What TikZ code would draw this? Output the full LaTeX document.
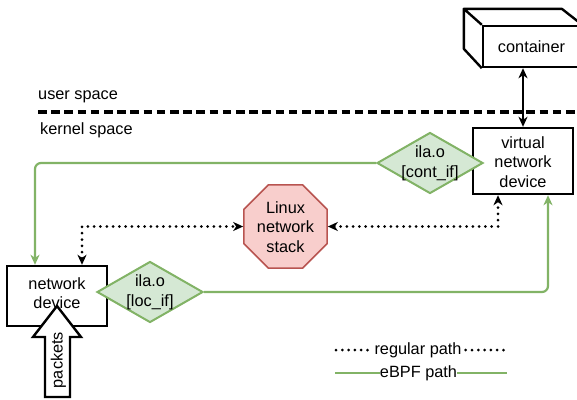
\documentclass[tikz,border=0pt]{standalone}
\usepackage{fontspec}
\setmainfont{Liberation Sans}
\usetikzlibrary{arrows.meta,shapes.geometric}
\definecolor{ebpf}{HTML}{82B366}
\definecolor{ebpffill}{HTML}{D5E8D4}
\definecolor{stackline}{HTML}{B85450}
\definecolor{stackfill}{HTML}{F8CECC}
\tikzset{ah/.tip={Stealth[length=10pt, width=9pt, inset=3pt]}}
\begin{document}
\begin{tikzpicture}[x=1pt,y=-1pt,
  lbl/.style={font=\fontsize{16.3}{19.6}\selectfont, align=center, inner sep=0pt},
  devbox/.style={draw, line width=2.4pt, minimum width=100pt, inner sep=0pt},
  hook/.style={diamond, draw=ebpf, fill=ebpffill, line width=2pt,
    minimum width=106pt, minimum height=61pt, inner sep=0pt},
  regular/.style={line width=3pt, line cap=round, dash pattern=on 0pt off 6.3pt},
  ebpfpath/.style={draw=ebpf, line width=2.2pt, rounded corners=6pt},
  spacesep/.style={line width=3.2pt, dash pattern=on 8.5pt off 4.7pt}
]
\clip (0,0) rectangle (577,399);
\fill[white] (0,0) rectangle (577,399);

% user / kernel boundary
\coordinate (sepL) at (38,112);
\coordinate (sepR) at (580,112);
\draw[spacesep] (sepL) -- (sepR);
\node[lbl, anchor=west] (user) at (38,97) {user space};
\node[lbl, anchor=west] (kernel) at (40,130) {kernel space};

% container drawn as a cuboid
\node[draw, line width=2.4pt, minimum width=98pt, minimum height=41pt, inner sep=0pt,
  fill=white] (container) at (532,46.5) {};
\draw[line width=2.4pt, line join=round]
  (container.north west) -- ++(-18,-16) -- ++(98,0) -- (container.north east)
  (container.north west) ++(-18,-16) -- ++(0,40) -- (container.south west);
\node[lbl] (containertext) at (531.5,47) {container};

% devices
\node[devbox, minimum height=66pt] (vnd) at (523,161) {};
\node[lbl] (vndtext) at (523,162) {virtual\\network\\device};
\node[devbox, minimum height=60pt] (nd) at (57,296) {};
\node[lbl] (ndtext) at (57,293) {network\\device};

% container <-> virtual device
\draw[line width=2.2pt, {ah}-{ah}] (vnd.north |- container.south) -- (vnd.north);

% eBPF hooks
\node[hook] (cont) at (430,163) {};
\node[lbl] (conttext) at (430,163) {ila.o\\{}[cont\_if]};
\node[hook] (loc) at (150,292) {};
\node[lbl] (loctext) at (150,292) {ila.o\\{}[loc\_if]};

% Linux network stack
\node[regular polygon, regular polygon sides=8, minimum size=90pt, inner sep=0pt,
  draw=stackline, fill=stackfill, line width=1.5pt] (stack) at (285.5,226.5) {};
\node[lbl] (stacktext) at (285.5,227) {Linux\\network\\stack};

% regular paths
\draw[regular, {ah}-{ah}]
  ([xshift=25pt]nd.north) |- (stack.west);
\draw[regular, {ah}-{ah}]
  (stack.east) -| ([xshift=-25pt]vnd.south);

% eBPF paths
\draw[ebpfpath, -{ah}] (cont.west) -| ([xshift=-22pt]nd.north);
\draw[ebpfpath, -{ah}] (loc.east) -| ([xshift=25pt]vnd.south);

% incoming packets
\draw[line width=2.4pt, fill=white, line join=miter]
  (57,306) -- (81,337) -- (70,337) -- (70,397) -- (45,397) -- (45,337) -- (33,337) -- cycle;
\node[lbl, rotate=90] (packets) at (58.5,360) {packets};

% legend
\node[lbl] (reg) at (418,350) {regular path};
\coordinate (regL) at (336,350);
\coordinate (regR) at (505,350);
\draw[regular] (regL) -- ([xshift=-3pt]reg.west);
\draw[regular] ([xshift=4pt]reg.east) -- (regR);
\node[lbl] (bpf) at (418.5,373) {eBPF path};
\coordinate (bpfL) at (335,373);
\coordinate (bpfR) at (507,373);
\draw[ebpfpath] (bpfL) -- (bpf.west);
\draw[ebpfpath] (bpf.east) -- (bpfR);
\end{tikzpicture}
\end{document}
